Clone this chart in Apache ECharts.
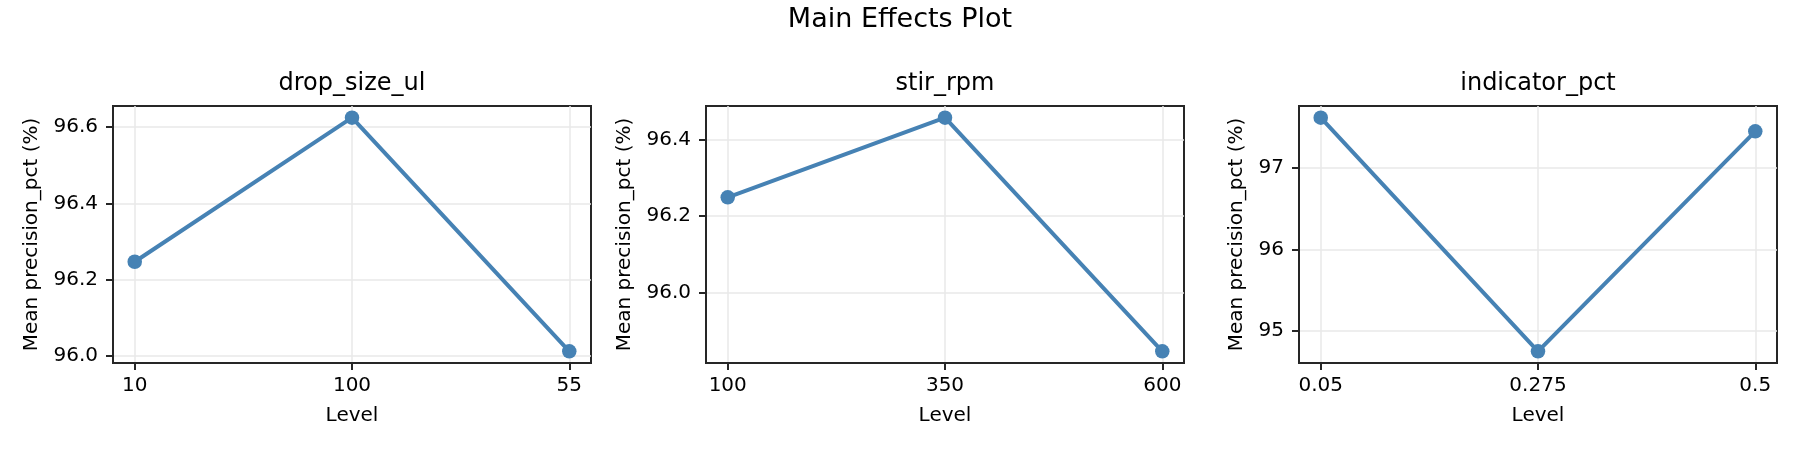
<!DOCTYPE html>
<html>
<head>
<meta charset="utf-8">
<title>Main Effects Plot</title>
<script src="https://cdn.jsdelivr.net/npm/echarts@6.0.0/dist/echarts.min.js"></script>
<style>
  html, body { margin: 0; padding: 0; background: #fff; }
  #chart { width: 1800px; height: 450px; }
</style>
</head>
<body>
<div id="chart"></div>
<script>
// factor levels (x categories) and mean response per level
var dropLevels = ['10', '100', '55'];
var dropMeans = [96.247, 96.625, 96.012];
var dropTicks = [96.0, 96.2, 96.4, 96.6];

var stirLevels = ['100', '350', '600'];
var stirMeans = [96.249, 96.457, 95.847];
var stirTicks = [96.0, 96.2, 96.4];

var indLevels = ['0.05', '0.275', '0.5'];
var indMeans = [97.619, 94.746, 97.451];
var indTicks = [95, 96, 97];

var factorNames = ['drop_size_ul', 'stir_rpm', 'indicator_pct'];

var FONT = 'DejaVu Sans';
var LINE_COLOR = '#4682b4';
var FRAME = '#262626';

var panels = [
    { levels: dropLevels, means: dropMeans, ticks: dropTicks, dec: 1, left: 113, nameGap: 71 },
    { levels: stirLevels, means: stirMeans, ticks: stirTicks, dec: 1, left: 706, nameGap: 71 },
    { levels: indLevels, means: indMeans, ticks: indTicks, dec: 0, left: 1299, nameGap: 52 }
];
var panelW = 478;

var chart = echarts.init(document.getElementById('chart'));

var grids = [], xAxes = [], yAxes = [], series = [];
var titles = [{
    text: 'Main Effects Plot',
    left: 900, top: 6, padding: 0,
    textAlign: 'center',
    textStyle: { fontFamily: FONT, fontSize: 27, fontWeight: 'normal', color: '#000' }
}];

panels.forEach(function (p, i) {
    // matplotlib style 5% padding around the data
    var lo = Math.min.apply(null, p.means), hi = Math.max.apply(null, p.means);
    var pad = (hi - lo) * 0.05;

    grids.push({
        left: p.left, top: 106, width: panelW, height: 257,
        show: true, borderColor: FRAME, borderWidth: 2, backgroundColor: 'transparent'
    });
    titles.push({
        text: factorNames[i],
        left: p.left + panelW / 2, top: 72, padding: 0,
        textAlign: 'center',
        textStyle: { fontFamily: FONT, fontSize: 24, fontWeight: 'normal', color: '#000' }
    });

    var idx = p.levels.map(function (_, k) { return k; });
    xAxes.push({
        type: 'value', gridIndex: i, position: 'bottom',
        min: -0.1, max: 2.1,
        name: 'Level', nameLocation: 'middle', nameGap: 43,
        nameTextStyle: { fontFamily: FONT, fontSize: 20, color: '#000' },
        axisLine: { show: true, onZero: false, lineStyle: { color: FRAME, width: 2 } },
        axisTick: { show: true, customValues: idx, length: 7, lineStyle: { color: FRAME, width: 2 } },
        axisLabel: {
            customValues: idx, margin: 13,
            fontFamily: FONT, fontSize: 20, color: '#000',
            formatter: function (v) { return p.levels[Math.round(v)]; }
        },
        splitLine: { show: true, lineStyle: { color: '#e8e8e8', width: 1.5 } }
    });
    yAxes.push({
        type: 'value', gridIndex: i, position: 'left',
        min: lo - pad, max: hi + pad,
        name: 'Mean precision_pct (%)', nameLocation: 'middle', nameGap: p.nameGap, nameRotate: 90,
        nameTextStyle: { fontFamily: FONT, fontSize: 20, color: '#000' },
        axisLine: { show: true, onZero: false, lineStyle: { color: FRAME, width: 2 } },
        axisTick: { show: true, customValues: p.ticks, length: 7, lineStyle: { color: FRAME, width: 2 } },
        axisLabel: {
            customValues: p.ticks, margin: 15,
            fontFamily: FONT, fontSize: 20, color: '#000',
            formatter: function (v) { return v.toFixed(p.dec); }
        },
        splitLine: { show: true, lineStyle: { color: '#e8e8e8', width: 1.5 } }
    });
    series.push({
        type: 'line', xAxisIndex: i, yAxisIndex: i,
        data: p.means.map(function (m, k) { return [k, m]; }),
        symbol: 'circle', symbolSize: 14.5,
        itemStyle: { color: LINE_COLOR },
        lineStyle: { color: LINE_COLOR, width: 4 },
        clip: false,
        animation: false
    });
});

chart.setOption({
    backgroundColor: '#fff',
    animation: false,
    title: titles,
    grid: grids,
    xAxis: xAxes,
    yAxis: yAxes,
    series: series
});
</script>
</body>
</html>
